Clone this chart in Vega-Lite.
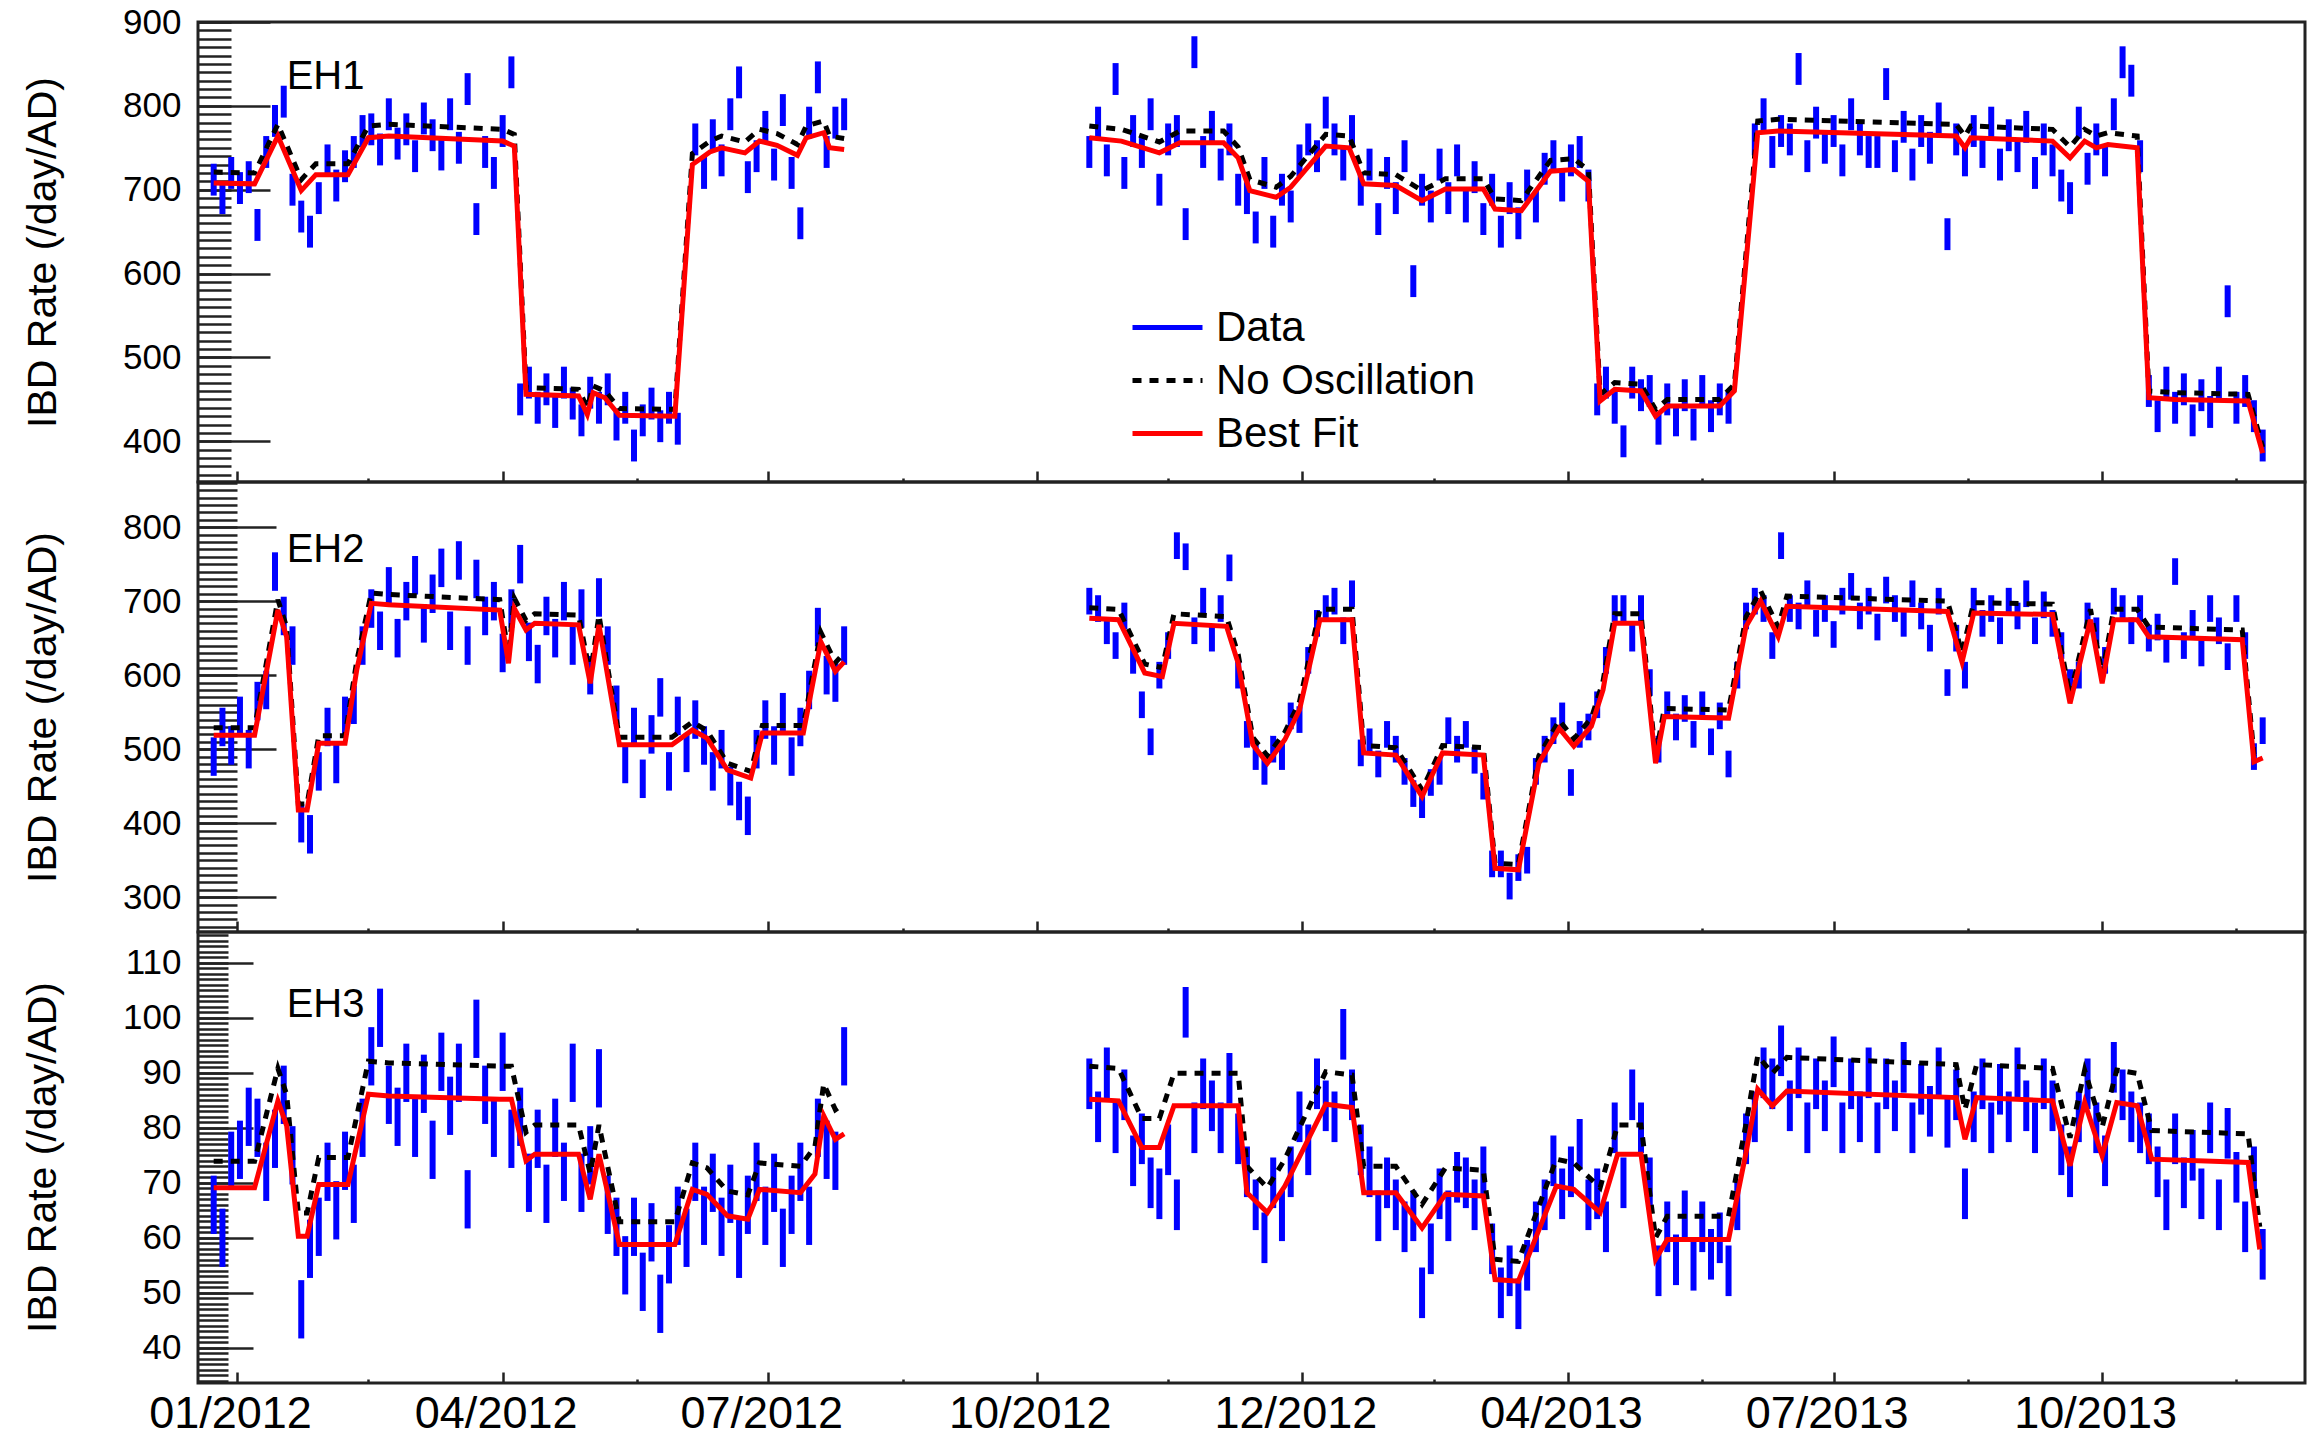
{
"$schema": "https://vega.github.io/schema/vega-lite/v6.json",
"padding": {"left": 20, "top": 3, "right": 0, "bottom": 0},
"background": "white",
"config": {
  "font": "Liberation Sans",
  "view": {"stroke": "#222222", "strokeWidth": 3},
  "axis": {"grid": false, "domain": false, "labelFont": "Liberation Sans", "titleFont": "Liberation Sans", "labelColor": "#000000", "titleColor": "#000000", "tickColor": "#222222", "tickWidth": 2.5, "labelOverlap": false, "labelFlush": false, "titleFontWeight": "normal"},
  "text": {"font": "Liberation Sans", "color": "#000000"}
},
"datasets": {
"eh1": [
{"d":"2011-12-24","r":712,"e":19},{"d":"2011-12-27","r":690,"e":19},{"d":"2011-12-30","r":720,"e":19},{"d":"2012-01-02","r":702,"e":19},{"d":"2012-01-05","r":715,"e":19},{"d":"2012-01-08","r":658,"e":19},{"d":"2012-01-11","r":745,"e":19},{"d":"2012-01-14","r":782,"e":19},{"d":"2012-01-17","r":805,"e":19},{"d":"2012-01-20","r":700,"e":19},{"d":"2012-01-23","r":668,"e":19},{"d":"2012-01-26","r":650,"e":19},{"d":"2012-01-29","r":690,"e":19},{"d":"2012-02-01","r":735,"e":19},{"d":"2012-02-04","r":705,"e":19},{"d":"2012-02-07","r":728,"e":19},{"d":"2012-02-10","r":745,"e":19},{"d":"2012-02-13","r":770,"e":19},{"d":"2012-02-16","r":772,"e":19},{"d":"2012-02-19","r":748,"e":19},{"d":"2012-02-22","r":790,"e":19},{"d":"2012-02-25","r":755,"e":19},{"d":"2012-02-28","r":772,"e":19},{"d":"2012-03-02","r":740,"e":19},{"d":"2012-03-05","r":785,"e":19},{"d":"2012-03-08","r":765,"e":19},{"d":"2012-03-11","r":742,"e":19},{"d":"2012-03-14","r":790,"e":19},{"d":"2012-03-17","r":750,"e":19},{"d":"2012-03-20","r":820,"e":19},{"d":"2012-03-23","r":665,"e":19},{"d":"2012-03-26","r":745,"e":19},{"d":"2012-03-29","r":720,"e":19},{"d":"2012-04-01","r":770,"e":19},{"d":"2012-04-04","r":840,"e":19},{"d":"2012-04-07","r":450,"e":19},{"d":"2012-04-10","r":470,"e":19},{"d":"2012-04-13","r":440,"e":19},{"d":"2012-04-16","r":462,"e":19},{"d":"2012-04-19","r":435,"e":19},{"d":"2012-04-22","r":470,"e":19},{"d":"2012-04-25","r":445,"e":19},{"d":"2012-04-28","r":425,"e":19},{"d":"2012-05-01","r":458,"e":19},{"d":"2012-05-04","r":440,"e":19},{"d":"2012-05-07","r":462,"e":19},{"d":"2012-05-10","r":420,"e":19},{"d":"2012-05-13","r":440,"e":19},{"d":"2012-05-16","r":395,"e":19},{"d":"2012-05-19","r":425,"e":19},{"d":"2012-05-22","r":445,"e":19},{"d":"2012-05-25","r":418,"e":19},{"d":"2012-05-28","r":440,"e":19},{"d":"2012-05-31","r":415,"e":19},{"d":"2012-06-06","r":760,"e":19},{"d":"2012-06-09","r":720,"e":19},{"d":"2012-06-12","r":765,"e":19},{"d":"2012-06-15","r":735,"e":19},{"d":"2012-06-18","r":790,"e":19},{"d":"2012-06-21","r":828,"e":19},{"d":"2012-06-24","r":715,"e":19},{"d":"2012-06-27","r":740,"e":19},{"d":"2012-06-30","r":775,"e":19},{"d":"2012-07-03","r":730,"e":19},{"d":"2012-07-06","r":795,"e":19},{"d":"2012-07-09","r":720,"e":19},{"d":"2012-07-12","r":660,"e":19},{"d":"2012-07-15","r":780,"e":19},{"d":"2012-07-18","r":834,"e":19},{"d":"2012-07-21","r":745,"e":19},{"d":"2012-07-24","r":780,"e":19},{"d":"2012-07-27","r":790,"e":19},
{"d":"2012-10-19","r":745,"e":19},{"d":"2012-10-22","r":780,"e":19},{"d":"2012-10-25","r":735,"e":19},{"d":"2012-10-28","r":832,"e":19},{"d":"2012-10-31","r":720,"e":19},{"d":"2012-11-03","r":770,"e":19},{"d":"2012-11-06","r":745,"e":19},{"d":"2012-11-09","r":790,"e":19},{"d":"2012-11-12","r":700,"e":19},{"d":"2012-11-15","r":760,"e":19},{"d":"2012-11-18","r":770,"e":19},{"d":"2012-11-21","r":659,"e":19},{"d":"2012-11-24","r":864,"e":19},{"d":"2012-11-27","r":745,"e":19},{"d":"2012-11-30","r":775,"e":19},{"d":"2012-12-03","r":730,"e":19},{"d":"2012-12-06","r":760,"e":19},{"d":"2012-12-09","r":700,"e":19},{"d":"2012-12-12","r":690,"e":19},{"d":"2012-12-15","r":655,"e":19},{"d":"2012-12-18","r":720,"e":19},{"d":"2012-12-21","r":650,"e":19},{"d":"2012-12-24","r":700,"e":19},{"d":"2012-12-27","r":680,"e":19},{"d":"2012-12-30","r":735,"e":19},{"d":"2013-01-02","r":760,"e":19},{"d":"2013-01-05","r":740,"e":19},{"d":"2013-01-08","r":792,"e":19},{"d":"2013-01-11","r":760,"e":19},{"d":"2013-01-14","r":730,"e":19},{"d":"2013-01-17","r":770,"e":19},{"d":"2013-01-20","r":700,"e":19},{"d":"2013-01-23","r":730,"e":19},{"d":"2013-01-26","r":665,"e":19},{"d":"2013-01-29","r":720,"e":19},{"d":"2013-02-01","r":690,"e":19},{"d":"2013-02-04","r":740,"e":19},{"d":"2013-02-07","r":591,"e":19},{"d":"2013-02-10","r":700,"e":19},{"d":"2013-02-13","r":680,"e":19},{"d":"2013-02-16","r":730,"e":19},{"d":"2013-02-19","r":690,"e":19},{"d":"2013-02-22","r":735,"e":19},{"d":"2013-02-25","r":680,"e":19},{"d":"2013-02-28","r":715,"e":19},{"d":"2013-03-03","r":665,"e":19},{"d":"2013-03-06","r":700,"e":19},{"d":"2013-03-09","r":650,"e":19},{"d":"2013-03-12","r":690,"e":19},{"d":"2013-03-15","r":660,"e":19},{"d":"2013-03-18","r":705,"e":19},{"d":"2013-03-21","r":680,"e":19},{"d":"2013-03-24","r":725,"e":19},{"d":"2013-03-27","r":740,"e":19},{"d":"2013-03-30","r":705,"e":19},{"d":"2013-04-02","r":735,"e":19},{"d":"2013-04-05","r":745,"e":19},{"d":"2013-04-08","r":705,"e":19},{"d":"2013-04-11","r":450,"e":19},{"d":"2013-04-14","r":470,"e":19},{"d":"2013-04-17","r":440,"e":19},{"d":"2013-04-20","r":400,"e":19},{"d":"2013-04-23","r":470,"e":19},{"d":"2013-04-26","r":455,"e":19},{"d":"2013-04-29","r":460,"e":19},{"d":"2013-05-02","r":415,"e":19},{"d":"2013-05-05","r":450,"e":19},{"d":"2013-05-08","r":425,"e":19},{"d":"2013-05-11","r":455,"e":19},{"d":"2013-05-14","r":420,"e":19},{"d":"2013-05-17","r":460,"e":19},{"d":"2013-05-20","r":430,"e":19},{"d":"2013-05-23","r":450,"e":19},{"d":"2013-05-26","r":440,"e":19},{"d":"2013-06-04","r":760,"e":19},{"d":"2013-06-07","r":790,"e":19},{"d":"2013-06-10","r":745,"e":19},{"d":"2013-06-13","r":770,"e":19},{"d":"2013-06-16","r":760,"e":19},{"d":"2013-06-19","r":844,"e":19},{"d":"2013-06-22","r":740,"e":19},{"d":"2013-06-25","r":780,"e":19},{"d":"2013-06-28","r":750,"e":19},{"d":"2013-07-01","r":770,"e":19},{"d":"2013-07-04","r":735,"e":19},{"d":"2013-07-07","r":790,"e":19},{"d":"2013-07-10","r":760,"e":19},{"d":"2013-07-13","r":745,"e":19},{"d":"2013-07-16","r":745,"e":19},{"d":"2013-07-19","r":826,"e":19},{"d":"2013-07-22","r":740,"e":19},{"d":"2013-07-25","r":775,"e":19},{"d":"2013-07-28","r":730,"e":19},{"d":"2013-07-31","r":770,"e":19},{"d":"2013-08-03","r":750,"e":19},{"d":"2013-08-06","r":785,"e":19},{"d":"2013-08-09","r":647,"e":19},{"d":"2013-08-12","r":760,"e":19},{"d":"2013-08-15","r":735,"e":19},{"d":"2013-08-18","r":770,"e":19},{"d":"2013-08-21","r":745,"e":19},{"d":"2013-08-24","r":780,"e":19},{"d":"2013-08-27","r":730,"e":19},{"d":"2013-08-30","r":765,"e":19},{"d":"2013-09-02","r":740,"e":19},{"d":"2013-09-05","r":775,"e":19},{"d":"2013-09-08","r":720,"e":19},{"d":"2013-09-11","r":760,"e":19},{"d":"2013-09-14","r":735,"e":19},{"d":"2013-09-17","r":705,"e":19},{"d":"2013-09-20","r":690,"e":19},{"d":"2013-09-23","r":780,"e":19},{"d":"2013-09-26","r":725,"e":19},{"d":"2013-09-29","r":760,"e":19},{"d":"2013-10-02","r":735,"e":19},{"d":"2013-10-05","r":790,"e":19},{"d":"2013-10-08","r":852,"e":19},{"d":"2013-10-11","r":830,"e":19},{"d":"2013-10-14","r":740,"e":19},{"d":"2013-10-17","r":460,"e":19},{"d":"2013-10-20","r":430,"e":19},{"d":"2013-10-23","r":470,"e":19},{"d":"2013-10-26","r":440,"e":19},{"d":"2013-10-29","r":462,"e":19},{"d":"2013-11-01","r":425,"e":19},{"d":"2013-11-04","r":455,"e":19},{"d":"2013-11-07","r":435,"e":19},{"d":"2013-11-10","r":470,"e":19},{"d":"2013-11-13","r":567,"e":19},{"d":"2013-11-16","r":440,"e":19},{"d":"2013-11-19","r":460,"e":19},{"d":"2013-11-22","r":430,"e":19},{"d":"2013-11-25","r":395,"e":19}
],
"eh2": [
{"d":"2011-12-24","r":490,"e":26},{"d":"2011-12-27","r":530,"e":26},{"d":"2011-12-30","r":505,"e":26},{"d":"2012-01-02","r":545,"e":26},{"d":"2012-01-05","r":500,"e":26},{"d":"2012-01-08","r":565,"e":26},{"d":"2012-01-11","r":580,"e":26},{"d":"2012-01-14","r":740,"e":26},{"d":"2012-01-17","r":680,"e":26},{"d":"2012-01-20","r":640,"e":26},{"d":"2012-01-23","r":400,"e":26},{"d":"2012-01-26","r":385,"e":26},{"d":"2012-01-29","r":470,"e":26},{"d":"2012-02-01","r":530,"e":26},{"d":"2012-02-04","r":480,"e":26},{"d":"2012-02-07","r":545,"e":26},{"d":"2012-02-10","r":560,"e":26},{"d":"2012-02-13","r":640,"e":26},{"d":"2012-02-16","r":690,"e":26},{"d":"2012-02-19","r":660,"e":26},{"d":"2012-02-22","r":720,"e":26},{"d":"2012-02-25","r":650,"e":26},{"d":"2012-02-28","r":700,"e":26},{"d":"2012-03-02","r":735,"e":26},{"d":"2012-03-05","r":670,"e":26},{"d":"2012-03-08","r":710,"e":26},{"d":"2012-03-11","r":745,"e":26},{"d":"2012-03-14","r":660,"e":26},{"d":"2012-03-17","r":755,"e":26},{"d":"2012-03-20","r":640,"e":26},{"d":"2012-03-23","r":730,"e":26},{"d":"2012-03-26","r":680,"e":26},{"d":"2012-03-29","r":700,"e":26},{"d":"2012-04-01","r":630,"e":26},{"d":"2012-04-04","r":690,"e":26},{"d":"2012-04-07","r":750,"e":26},{"d":"2012-04-10","r":645,"e":26},{"d":"2012-04-13","r":615,"e":26},{"d":"2012-04-16","r":680,"e":26},{"d":"2012-04-19","r":650,"e":26},{"d":"2012-04-22","r":700,"e":26},{"d":"2012-04-25","r":640,"e":26},{"d":"2012-04-28","r":690,"e":26},{"d":"2012-05-01","r":600,"e":26},{"d":"2012-05-04","r":705,"e":26},{"d":"2012-05-07","r":640,"e":26},{"d":"2012-05-10","r":560,"e":26},{"d":"2012-05-13","r":480,"e":26},{"d":"2012-05-16","r":530,"e":26},{"d":"2012-05-19","r":460,"e":26},{"d":"2012-05-22","r":520,"e":26},{"d":"2012-05-25","r":570,"e":26},{"d":"2012-05-28","r":470,"e":26},{"d":"2012-05-31","r":545,"e":26},{"d":"2012-06-03","r":495,"e":26},{"d":"2012-06-06","r":540,"e":26},{"d":"2012-06-09","r":505,"e":26},{"d":"2012-06-12","r":470,"e":26},{"d":"2012-06-15","r":500,"e":26},{"d":"2012-06-18","r":450,"e":26},{"d":"2012-06-21","r":430,"e":26},{"d":"2012-06-24","r":410,"e":26},{"d":"2012-06-27","r":500,"e":26},{"d":"2012-06-30","r":540,"e":26},{"d":"2012-07-03","r":505,"e":26},{"d":"2012-07-06","r":550,"e":26},{"d":"2012-07-09","r":490,"e":26},{"d":"2012-07-12","r":530,"e":26},{"d":"2012-07-15","r":580,"e":26},{"d":"2012-07-18","r":665,"e":26},{"d":"2012-07-21","r":600,"e":26},{"d":"2012-07-24","r":590,"e":26},{"d":"2012-07-27","r":640,"e":26},
{"d":"2012-10-19","r":700,"e":18},{"d":"2012-10-22","r":690,"e":18},{"d":"2012-10-25","r":660,"e":18},{"d":"2012-10-28","r":640,"e":18},{"d":"2012-10-31","r":680,"e":18},{"d":"2012-11-03","r":620,"e":18},{"d":"2012-11-06","r":560,"e":18},{"d":"2012-11-09","r":510,"e":18},{"d":"2012-11-12","r":600,"e":18},{"d":"2012-11-15","r":640,"e":18},{"d":"2012-11-18","r":775,"e":18},{"d":"2012-11-21","r":760,"e":18},{"d":"2012-11-24","r":660,"e":18},{"d":"2012-11-27","r":700,"e":18},{"d":"2012-11-30","r":650,"e":18},{"d":"2012-12-03","r":690,"e":18},{"d":"2012-12-06","r":745,"e":18},{"d":"2012-12-09","r":600,"e":18},{"d":"2012-12-12","r":520,"e":18},{"d":"2012-12-15","r":490,"e":18},{"d":"2012-12-18","r":470,"e":18},{"d":"2012-12-21","r":500,"e":18},{"d":"2012-12-24","r":490,"e":18},{"d":"2012-12-27","r":545,"e":18},{"d":"2012-12-30","r":540,"e":18},{"d":"2013-01-02","r":620,"e":18},{"d":"2013-01-05","r":670,"e":18},{"d":"2013-01-08","r":690,"e":18},{"d":"2013-01-11","r":700,"e":18},{"d":"2013-01-14","r":660,"e":18},{"d":"2013-01-17","r":710,"e":18},{"d":"2013-01-20","r":495,"e":18},{"d":"2013-01-23","r":510,"e":18},{"d":"2013-01-26","r":480,"e":18},{"d":"2013-01-29","r":520,"e":18},{"d":"2013-02-01","r":500,"e":18},{"d":"2013-02-04","r":470,"e":18},{"d":"2013-02-07","r":440,"e":18},{"d":"2013-02-10","r":425,"e":18},{"d":"2013-02-13","r":455,"e":18},{"d":"2013-02-16","r":470,"e":18},{"d":"2013-02-19","r":525,"e":18},{"d":"2013-02-22","r":500,"e":18},{"d":"2013-02-25","r":520,"e":18},{"d":"2013-02-28","r":485,"e":18},{"d":"2013-03-03","r":450,"e":18},{"d":"2013-03-06","r":345,"e":18},{"d":"2013-03-09","r":345,"e":18},{"d":"2013-03-12","r":315,"e":18},{"d":"2013-03-15","r":340,"e":18},{"d":"2013-03-18","r":350,"e":18},{"d":"2013-03-21","r":470,"e":18},{"d":"2013-03-24","r":500,"e":18},{"d":"2013-03-27","r":525,"e":18},{"d":"2013-03-30","r":545,"e":18},{"d":"2013-04-02","r":455,"e":18},{"d":"2013-04-05","r":520,"e":18},{"d":"2013-04-08","r":530,"e":18},{"d":"2013-04-11","r":560,"e":18},{"d":"2013-04-14","r":620,"e":18},{"d":"2013-04-17","r":690,"e":18},{"d":"2013-04-20","r":690,"e":18},{"d":"2013-04-23","r":650,"e":18},{"d":"2013-04-26","r":690,"e":18},{"d":"2013-04-29","r":590,"e":18},{"d":"2013-05-02","r":500,"e":18},{"d":"2013-05-05","r":560,"e":18},{"d":"2013-05-08","r":530,"e":18},{"d":"2013-05-11","r":555,"e":18},{"d":"2013-05-14","r":520,"e":18},{"d":"2013-05-17","r":560,"e":18},{"d":"2013-05-20","r":510,"e":18},{"d":"2013-05-23","r":545,"e":18},{"d":"2013-05-26","r":480,"e":18},{"d":"2013-05-29","r":600,"e":18},{"d":"2013-06-01","r":680,"e":18},{"d":"2013-06-04","r":700,"e":18},{"d":"2013-06-07","r":690,"e":18},{"d":"2013-06-10","r":640,"e":18},{"d":"2013-06-13","r":775,"e":18},{"d":"2013-06-16","r":690,"e":18},{"d":"2013-06-19","r":680,"e":18},{"d":"2013-06-22","r":710,"e":18},{"d":"2013-06-25","r":670,"e":18},{"d":"2013-06-28","r":690,"e":18},{"d":"2013-07-01","r":655,"e":18},{"d":"2013-07-04","r":700,"e":18},{"d":"2013-07-07","r":720,"e":18},{"d":"2013-07-10","r":680,"e":18},{"d":"2013-07-13","r":700,"e":18},{"d":"2013-07-16","r":665,"e":18},{"d":"2013-07-19","r":715,"e":18},{"d":"2013-07-22","r":690,"e":18},{"d":"2013-07-25","r":670,"e":18},{"d":"2013-07-28","r":710,"e":18},{"d":"2013-07-31","r":680,"e":18},{"d":"2013-08-03","r":650,"e":18},{"d":"2013-08-06","r":700,"e":18},{"d":"2013-08-09","r":590,"e":18},{"d":"2013-08-12","r":650,"e":18},{"d":"2013-08-15","r":600,"e":18},{"d":"2013-08-18","r":700,"e":18},{"d":"2013-08-21","r":670,"e":18},{"d":"2013-08-24","r":690,"e":18},{"d":"2013-08-27","r":660,"e":18},{"d":"2013-08-30","r":700,"e":18},{"d":"2013-09-02","r":680,"e":18},{"d":"2013-09-05","r":710,"e":18},{"d":"2013-09-08","r":660,"e":18},{"d":"2013-09-11","r":695,"e":18},{"d":"2013-09-14","r":670,"e":18},{"d":"2013-09-17","r":640,"e":18},{"d":"2013-09-20","r":590,"e":18},{"d":"2013-09-23","r":600,"e":18},{"d":"2013-09-26","r":680,"e":18},{"d":"2013-09-29","r":660,"e":18},{"d":"2013-10-02","r":620,"e":18},{"d":"2013-10-05","r":700,"e":18},{"d":"2013-10-08","r":690,"e":18},{"d":"2013-10-11","r":660,"e":18},{"d":"2013-10-14","r":690,"e":18},{"d":"2013-10-17","r":650,"e":18},{"d":"2013-10-20","r":665,"e":18},{"d":"2013-10-23","r":635,"e":18},{"d":"2013-10-26","r":740,"e":18},{"d":"2013-10-29","r":640,"e":18},{"d":"2013-11-01","r":670,"e":18},{"d":"2013-11-04","r":630,"e":18},{"d":"2013-11-07","r":690,"e":18},{"d":"2013-11-10","r":660,"e":18},{"d":"2013-11-13","r":625,"e":18},{"d":"2013-11-16","r":690,"e":18},{"d":"2013-11-19","r":640,"e":18},{"d":"2013-11-22","r":490,"e":18},{"d":"2013-11-25","r":525,"e":18}
],
"eh3": [
{"d":"2011-12-24","r":66,"e":5.3},{"d":"2011-12-27","r":60,"e":5.3},{"d":"2011-12-30","r":74,"e":5.3},{"d":"2012-01-02","r":76,"e":5.3},{"d":"2012-01-05","r":82,"e":5.3},{"d":"2012-01-08","r":80,"e":5.3},{"d":"2012-01-11","r":72,"e":5.3},{"d":"2012-01-14","r":78,"e":5.3},{"d":"2012-01-17","r":86,"e":5.3},{"d":"2012-01-20","r":75,"e":5.3},{"d":"2012-01-23","r":47,"e":5.3},{"d":"2012-01-26","r":58,"e":5.3},{"d":"2012-01-29","r":62,"e":5.3},{"d":"2012-02-01","r":72,"e":5.3},{"d":"2012-02-04","r":65,"e":5.3},{"d":"2012-02-07","r":74,"e":5.3},{"d":"2012-02-10","r":68,"e":5.3},{"d":"2012-02-13","r":80,"e":5.3},{"d":"2012-02-16","r":93,"e":5.3},{"d":"2012-02-19","r":100,"e":5.3},{"d":"2012-02-22","r":86,"e":5.3},{"d":"2012-02-25","r":82,"e":5.3},{"d":"2012-02-28","r":90,"e":5.3},{"d":"2012-03-02","r":80,"e":5.3},{"d":"2012-03-05","r":88,"e":5.3},{"d":"2012-03-08","r":76,"e":5.3},{"d":"2012-03-11","r":92,"e":5.3},{"d":"2012-03-14","r":84,"e":5.3},{"d":"2012-03-17","r":90,"e":5.3},{"d":"2012-03-20","r":67,"e":5.3},{"d":"2012-03-23","r":98,"e":5.3},{"d":"2012-03-26","r":86,"e":5.3},{"d":"2012-03-29","r":80,"e":5.3},{"d":"2012-04-01","r":92,"e":5.3},{"d":"2012-04-04","r":78,"e":5.3},{"d":"2012-04-07","r":82,"e":5.3},{"d":"2012-04-10","r":70,"e":5.3},{"d":"2012-04-13","r":78,"e":5.3},{"d":"2012-04-16","r":68,"e":5.3},{"d":"2012-04-19","r":80,"e":5.3},{"d":"2012-04-22","r":72,"e":5.3},{"d":"2012-04-25","r":90,"e":5.3},{"d":"2012-04-28","r":70,"e":5.3},{"d":"2012-05-01","r":75,"e":5.3},{"d":"2012-05-04","r":89,"e":5.3},{"d":"2012-05-07","r":66,"e":5.3},{"d":"2012-05-10","r":62,"e":5.3},{"d":"2012-05-13","r":55,"e":5.3},{"d":"2012-05-16","r":62,"e":5.3},{"d":"2012-05-19","r":52,"e":5.3},{"d":"2012-05-22","r":61,"e":5.3},{"d":"2012-05-25","r":48,"e":5.3},{"d":"2012-05-28","r":57,"e":5.3},{"d":"2012-05-31","r":64,"e":5.3},{"d":"2012-06-03","r":60,"e":5.3},{"d":"2012-06-06","r":72,"e":5.3},{"d":"2012-06-09","r":64,"e":5.3},{"d":"2012-06-12","r":70,"e":5.3},{"d":"2012-06-15","r":62,"e":5.3},{"d":"2012-06-18","r":68,"e":5.3},{"d":"2012-06-21","r":58,"e":5.3},{"d":"2012-06-24","r":66,"e":5.3},{"d":"2012-06-27","r":72,"e":5.3},{"d":"2012-06-30","r":64,"e":5.3},{"d":"2012-07-03","r":70,"e":5.3},{"d":"2012-07-06","r":60,"e":5.3},{"d":"2012-07-09","r":66,"e":5.3},{"d":"2012-07-12","r":72,"e":5.3},{"d":"2012-07-15","r":64,"e":5.3},{"d":"2012-07-18","r":80,"e":5.3},{"d":"2012-07-21","r":76,"e":5.3},{"d":"2012-07-24","r":74,"e":5.3},{"d":"2012-07-27","r":93,"e":5.3},
{"d":"2012-10-19","r":88,"e":4.6},{"d":"2012-10-22","r":82,"e":4.6},{"d":"2012-10-25","r":90,"e":4.6},{"d":"2012-10-28","r":80,"e":4.6},{"d":"2012-10-31","r":86,"e":4.6},{"d":"2012-11-03","r":74,"e":4.6},{"d":"2012-11-06","r":78,"e":4.6},{"d":"2012-11-09","r":70,"e":4.6},{"d":"2012-11-12","r":68,"e":4.6},{"d":"2012-11-15","r":76,"e":4.6},{"d":"2012-11-18","r":66,"e":4.6},{"d":"2012-11-21","r":101,"e":4.6},{"d":"2012-11-24","r":80,"e":4.6},{"d":"2012-11-27","r":88,"e":4.6},{"d":"2012-11-30","r":84,"e":4.6},{"d":"2012-12-03","r":80,"e":4.6},{"d":"2012-12-06","r":89,"e":4.6},{"d":"2012-12-09","r":78,"e":4.6},{"d":"2012-12-12","r":72,"e":4.6},{"d":"2012-12-15","r":66,"e":4.6},{"d":"2012-12-18","r":60,"e":4.6},{"d":"2012-12-21","r":70,"e":4.6},{"d":"2012-12-24","r":64,"e":4.6},{"d":"2012-12-27","r":72,"e":4.6},{"d":"2012-12-30","r":82,"e":4.6},{"d":"2013-01-02","r":76,"e":4.6},{"d":"2013-01-05","r":88,"e":4.6},{"d":"2013-01-08","r":84,"e":4.6},{"d":"2013-01-11","r":82,"e":4.6},{"d":"2013-01-14","r":97,"e":4.6},{"d":"2013-01-17","r":86,"e":4.6},{"d":"2013-01-20","r":76,"e":4.6},{"d":"2013-01-23","r":72,"e":4.6},{"d":"2013-01-26","r":64,"e":4.6},{"d":"2013-01-29","r":70,"e":4.6},{"d":"2013-02-01","r":66,"e":4.6},{"d":"2013-02-04","r":62,"e":4.6},{"d":"2013-02-07","r":64,"e":4.6},{"d":"2013-02-10","r":50,"e":4.6},{"d":"2013-02-13","r":58,"e":4.6},{"d":"2013-02-16","r":68,"e":4.6},{"d":"2013-02-19","r":64,"e":4.6},{"d":"2013-02-22","r":71,"e":4.6},{"d":"2013-02-25","r":70,"e":4.6},{"d":"2013-02-28","r":66,"e":4.6},{"d":"2013-03-03","r":72,"e":4.6},{"d":"2013-03-06","r":58,"e":4.6},{"d":"2013-03-09","r":50,"e":4.6},{"d":"2013-03-12","r":54,"e":4.6},{"d":"2013-03-15","r":48,"e":4.6},{"d":"2013-03-18","r":55,"e":4.6},{"d":"2013-03-21","r":62,"e":4.6},{"d":"2013-03-24","r":66,"e":4.6},{"d":"2013-03-27","r":74,"e":4.6},{"d":"2013-03-30","r":68,"e":4.6},{"d":"2013-04-02","r":72,"e":4.6},{"d":"2013-04-05","r":77,"e":4.6},{"d":"2013-04-08","r":66,"e":4.6},{"d":"2013-04-11","r":68,"e":4.6},{"d":"2013-04-14","r":62,"e":4.6},{"d":"2013-04-17","r":80,"e":4.6},{"d":"2013-04-20","r":70,"e":4.6},{"d":"2013-04-23","r":86,"e":4.6},{"d":"2013-04-26","r":80,"e":4.6},{"d":"2013-04-29","r":70,"e":4.6},{"d":"2013-05-02","r":54,"e":4.6},{"d":"2013-05-05","r":62,"e":4.6},{"d":"2013-05-08","r":56,"e":4.6},{"d":"2013-05-11","r":64,"e":4.6},{"d":"2013-05-14","r":55,"e":4.6},{"d":"2013-05-17","r":62,"e":4.6},{"d":"2013-05-20","r":57,"e":4.6},{"d":"2013-05-23","r":60,"e":4.6},{"d":"2013-05-26","r":54,"e":4.6},{"d":"2013-05-29","r":66,"e":4.6},{"d":"2013-06-01","r":78,"e":4.6},{"d":"2013-06-04","r":82,"e":4.6},{"d":"2013-06-07","r":90,"e":4.6},{"d":"2013-06-10","r":88,"e":4.6},{"d":"2013-06-13","r":94,"e":4.6},{"d":"2013-06-16","r":84,"e":4.6},{"d":"2013-06-19","r":90,"e":4.6},{"d":"2013-06-22","r":80,"e":4.6},{"d":"2013-06-25","r":88,"e":4.6},{"d":"2013-06-28","r":84,"e":4.6},{"d":"2013-07-01","r":92,"e":4.6},{"d":"2013-07-04","r":80,"e":4.6},{"d":"2013-07-07","r":88,"e":4.6},{"d":"2013-07-10","r":82,"e":4.6},{"d":"2013-07-13","r":90,"e":4.6},{"d":"2013-07-16","r":80,"e":4.6},{"d":"2013-07-19","r":88,"e":4.6},{"d":"2013-07-22","r":84,"e":4.6},{"d":"2013-07-25","r":91,"e":4.6},{"d":"2013-07-28","r":80,"e":4.6},{"d":"2013-07-31","r":87,"e":4.6},{"d":"2013-08-03","r":83,"e":4.6},{"d":"2013-08-06","r":90,"e":4.6},{"d":"2013-08-09","r":81,"e":4.6},{"d":"2013-08-12","r":86,"e":4.6},{"d":"2013-08-15","r":68,"e":4.6},{"d":"2013-08-18","r":82,"e":4.6},{"d":"2013-08-21","r":88,"e":4.6},{"d":"2013-08-24","r":80,"e":4.6},{"d":"2013-08-27","r":87,"e":4.6},{"d":"2013-08-30","r":82,"e":4.6},{"d":"2013-09-02","r":90,"e":4.6},{"d":"2013-09-05","r":84,"e":4.6},{"d":"2013-09-08","r":80,"e":4.6},{"d":"2013-09-11","r":88,"e":4.6},{"d":"2013-09-14","r":84,"e":4.6},{"d":"2013-09-17","r":76,"e":4.6},{"d":"2013-09-20","r":72,"e":4.6},{"d":"2013-09-23","r":82,"e":4.6},{"d":"2013-09-26","r":88,"e":4.6},{"d":"2013-09-29","r":80,"e":4.6},{"d":"2013-10-02","r":74,"e":4.6},{"d":"2013-10-05","r":91,"e":4.6},{"d":"2013-10-08","r":86,"e":4.6},{"d":"2013-10-11","r":82,"e":4.6},{"d":"2013-10-14","r":80,"e":4.6},{"d":"2013-10-17","r":78,"e":4.6},{"d":"2013-10-20","r":72,"e":4.6},{"d":"2013-10-23","r":66,"e":4.6},{"d":"2013-10-26","r":78,"e":4.6},{"d":"2013-10-29","r":70,"e":4.6},{"d":"2013-11-01","r":75,"e":4.6},{"d":"2013-11-04","r":68,"e":4.6},{"d":"2013-11-07","r":80,"e":4.6},{"d":"2013-11-10","r":66,"e":4.6},{"d":"2013-11-13","r":79,"e":4.6},{"d":"2013-11-16","r":71,"e":4.6},{"d":"2013-11-19","r":62,"e":4.6},{"d":"2013-11-22","r":72,"e":4.6},{"d":"2013-11-25","r":57,"e":4.6}
],
"l1": [
{"d":"2011-12-24","s":"fit","p":1,"r":708},{"d":"2012-01-07","s":"fit","p":1,"r":707},{"d":"2012-01-15","s":"fit","p":1,"r":764},{"d":"2012-01-23","s":"fit","p":1,"r":699},{"d":"2012-01-28","s":"fit","p":1,"r":718},{"d":"2012-02-08","s":"fit","p":1,"r":718},{"d":"2012-02-15","s":"fit","p":1,"r":762},{"d":"2012-02-22","s":"fit","p":1,"r":764},{"d":"2012-04-01","s":"fit","p":1,"r":758},{"d":"2012-04-05","s":"fit","p":1,"r":752},{"d":"2012-04-09","s":"fit","p":1,"r":456},{"d":"2012-04-27","s":"fit","p":1,"r":454},{"d":"2012-04-30","s":"fit","p":1,"r":432},{"d":"2012-05-02","s":"fit","p":1,"r":458},{"d":"2012-05-06","s":"fit","p":1,"r":452},{"d":"2012-05-11","s":"fit","p":1,"r":431},{"d":"2012-05-30","s":"fit","p":1,"r":430},{"d":"2012-06-05","s":"fit","p":1,"r":730},{"d":"2012-06-11","s":"fit","p":1,"r":745},{"d":"2012-06-15","s":"fit","p":1,"r":750},{"d":"2012-06-23","s":"fit","p":1,"r":744},{"d":"2012-06-28","s":"fit","p":1,"r":758},{"d":"2012-07-04","s":"fit","p":1,"r":753},{"d":"2012-07-11","s":"fit","p":1,"r":741},{"d":"2012-07-14","s":"fit","p":1,"r":762},{"d":"2012-07-20","s":"fit","p":1,"r":768},{"d":"2012-07-22","s":"fit","p":1,"r":750},{"d":"2012-07-27","s":"fit","p":1,"r":748},
{"d":"2012-10-19","s":"fit","p":2,"r":762},{"d":"2012-10-30","s":"fit","p":2,"r":758},{"d":"2012-11-12","s":"fit","p":2,"r":744},{"d":"2012-11-19","s":"fit","p":2,"r":756},{"d":"2012-12-04","s":"fit","p":2,"r":756},{"d":"2012-12-09","s":"fit","p":2,"r":738},{"d":"2012-12-13","s":"fit","p":2,"r":699},{"d":"2012-12-22","s":"fit","p":2,"r":691},{"d":"2012-12-27","s":"fit","p":2,"r":703},{"d":"2013-01-08","s":"fit","p":2,"r":752},{"d":"2013-01-16","s":"fit","p":2,"r":750},{"d":"2013-01-21","s":"fit","p":2,"r":707},{"d":"2013-02-01","s":"fit","p":2,"r":705},{"d":"2013-02-10","s":"fit","p":2,"r":687},{"d":"2013-02-18","s":"fit","p":2,"r":701},{"d":"2013-03-03","s":"fit","p":2,"r":701},{"d":"2013-03-07","s":"fit","p":2,"r":677},{"d":"2013-03-16","s":"fit","p":2,"r":675},{"d":"2013-03-26","s":"fit","p":2,"r":722},{"d":"2013-04-03","s":"fit","p":2,"r":724},{"d":"2013-04-08","s":"fit","p":2,"r":710},{"d":"2013-04-12","s":"fit","p":2,"r":448},{"d":"2013-04-17","s":"fit","p":2,"r":462},{"d":"2013-04-26","s":"fit","p":2,"r":460},{"d":"2013-05-01","s":"fit","p":2,"r":430},{"d":"2013-05-05","s":"fit","p":2,"r":442},{"d":"2013-05-23","s":"fit","p":2,"r":442},{"d":"2013-05-28","s":"fit","p":2,"r":460},{"d":"2013-06-05","s":"fit","p":2,"r":768},{"d":"2013-06-12","s":"fit","p":2,"r":770},{"d":"2013-08-12","s":"fit","p":2,"r":764},{"d":"2013-08-15","s":"fit","p":2,"r":750},{"d":"2013-08-17","s":"fit","p":2,"r":762},{"d":"2013-09-14","s":"fit","p":2,"r":758},{"d":"2013-09-20","s":"fit","p":2,"r":738},{"d":"2013-09-25","s":"fit","p":2,"r":758},{"d":"2013-09-29","s":"fit","p":2,"r":750},{"d":"2013-10-03","s":"fit","p":2,"r":754},{"d":"2013-10-13","s":"fit","p":2,"r":750},{"d":"2013-10-17","s":"fit","p":2,"r":452},{"d":"2013-10-26","s":"fit","p":2,"r":450},{"d":"2013-11-20","s":"fit","p":2,"r":448},{"d":"2013-11-25","s":"fit","p":2,"r":386},
{"d":"2011-12-24","s":"no","p":1,"r":721},{"d":"2012-01-07","s":"no","p":1,"r":720},{"d":"2012-01-15","s":"no","p":1,"r":778},{"d":"2012-01-23","s":"no","p":1,"r":712},{"d":"2012-01-28","s":"no","p":1,"r":731},{"d":"2012-02-08","s":"no","p":1,"r":731},{"d":"2012-02-15","s":"no","p":1,"r":776},{"d":"2012-02-22","s":"no","p":1,"r":778},{"d":"2012-04-01","s":"no","p":1,"r":772},{"d":"2012-04-05","s":"no","p":1,"r":766},{"d":"2012-04-09","s":"no","p":1,"r":464},{"d":"2012-04-27","s":"no","p":1,"r":462},{"d":"2012-04-30","s":"no","p":1,"r":440},{"d":"2012-05-02","s":"no","p":1,"r":466},{"d":"2012-05-06","s":"no","p":1,"r":460},{"d":"2012-05-11","s":"no","p":1,"r":439},{"d":"2012-05-30","s":"no","p":1,"r":438},{"d":"2012-06-05","s":"no","p":1,"r":743},{"d":"2012-06-11","s":"no","p":1,"r":758},{"d":"2012-06-15","s":"no","p":1,"r":764},{"d":"2012-06-23","s":"no","p":1,"r":757},{"d":"2012-06-28","s":"no","p":1,"r":772},{"d":"2012-07-04","s":"no","p":1,"r":767},{"d":"2012-07-11","s":"no","p":1,"r":754},{"d":"2012-07-14","s":"no","p":1,"r":776},{"d":"2012-07-20","s":"no","p":1,"r":782},{"d":"2012-07-22","s":"no","p":1,"r":764},{"d":"2012-07-27","s":"no","p":1,"r":761},
{"d":"2012-10-19","s":"no","p":2,"r":776},{"d":"2012-10-30","s":"no","p":2,"r":772},{"d":"2012-11-12","s":"no","p":2,"r":757},{"d":"2012-11-19","s":"no","p":2,"r":770},{"d":"2012-12-04","s":"no","p":2,"r":770},{"d":"2012-12-09","s":"no","p":2,"r":751},{"d":"2012-12-13","s":"no","p":2,"r":712},{"d":"2012-12-22","s":"no","p":2,"r":703},{"d":"2012-12-27","s":"no","p":2,"r":716},{"d":"2013-01-08","s":"no","p":2,"r":766},{"d":"2013-01-16","s":"no","p":2,"r":764},{"d":"2013-01-21","s":"no","p":2,"r":720},{"d":"2013-02-01","s":"no","p":2,"r":718},{"d":"2013-02-10","s":"no","p":2,"r":699},{"d":"2013-02-18","s":"no","p":2,"r":713},{"d":"2013-03-03","s":"no","p":2,"r":713},{"d":"2013-03-07","s":"no","p":2,"r":689},{"d":"2013-03-16","s":"no","p":2,"r":687},{"d":"2013-03-26","s":"no","p":2,"r":735},{"d":"2013-04-03","s":"no","p":2,"r":737},{"d":"2013-04-08","s":"no","p":2,"r":723},{"d":"2013-04-12","s":"no","p":2,"r":456},{"d":"2013-04-17","s":"no","p":2,"r":470},{"d":"2013-04-26","s":"no","p":2,"r":468},{"d":"2013-05-01","s":"no","p":2,"r":438},{"d":"2013-05-05","s":"no","p":2,"r":450},{"d":"2013-05-23","s":"no","p":2,"r":450},{"d":"2013-05-28","s":"no","p":2,"r":468},{"d":"2013-06-05","s":"no","p":2,"r":782},{"d":"2013-06-12","s":"no","p":2,"r":784},{"d":"2013-08-12","s":"no","p":2,"r":778},{"d":"2013-08-15","s":"no","p":2,"r":764},{"d":"2013-08-17","s":"no","p":2,"r":776},{"d":"2013-09-14","s":"no","p":2,"r":772},{"d":"2013-09-20","s":"no","p":2,"r":751},{"d":"2013-09-25","s":"no","p":2,"r":772},{"d":"2013-09-29","s":"no","p":2,"r":764},{"d":"2013-10-03","s":"no","p":2,"r":768},{"d":"2013-10-13","s":"no","p":2,"r":764},{"d":"2013-10-17","s":"no","p":2,"r":460},{"d":"2013-10-26","s":"no","p":2,"r":458},{"d":"2013-11-20","s":"no","p":2,"r":456},{"d":"2013-11-25","s":"no","p":2,"r":393}
],
"l2": [
{"d":"2011-12-24","s":"fit","p":1,"r":519},{"d":"2012-01-07","s":"fit","p":1,"r":519},{"d":"2012-01-15","s":"fit","p":1,"r":688},{"d":"2012-01-18","s":"fit","p":1,"r":652},{"d":"2012-01-22","s":"fit","p":1,"r":418},{"d":"2012-01-25","s":"fit","p":1,"r":418},{"d":"2012-01-29","s":"fit","p":1,"r":508},{"d":"2012-02-07","s":"fit","p":1,"r":508},{"d":"2012-02-11","s":"fit","p":1,"r":607},{"d":"2012-02-16","s":"fit","p":1,"r":697},{"d":"2012-02-22","s":"fit","p":1,"r":695},{"d":"2012-03-31","s":"fit","p":1,"r":688},{"d":"2012-04-03","s":"fit","p":1,"r":616},{"d":"2012-04-05","s":"fit","p":1,"r":690},{"d":"2012-04-09","s":"fit","p":1,"r":661},{"d":"2012-04-12","s":"fit","p":1,"r":670},{"d":"2012-04-27","s":"fit","p":1,"r":668},{"d":"2012-05-01","s":"fit","p":1,"r":589},{"d":"2012-05-04","s":"fit","p":1,"r":668},{"d":"2012-05-11","s":"fit","p":1,"r":506},{"d":"2012-05-29","s":"fit","p":1,"r":506},{"d":"2012-06-05","s":"fit","p":1,"r":526},{"d":"2012-06-10","s":"fit","p":1,"r":515},{"d":"2012-06-17","s":"fit","p":1,"r":472},{"d":"2012-06-25","s":"fit","p":1,"r":461},{"d":"2012-06-29","s":"fit","p":1,"r":522},{"d":"2012-07-13","s":"fit","p":1,"r":522},{"d":"2012-07-19","s":"fit","p":1,"r":645},{"d":"2012-07-24","s":"fit","p":1,"r":605},{"d":"2012-07-27","s":"fit","p":1,"r":618},
{"d":"2012-10-19","s":"fit","p":2,"r":677},{"d":"2012-10-29","s":"fit","p":2,"r":675},{"d":"2012-11-07","s":"fit","p":2,"r":603},{"d":"2012-11-13","s":"fit","p":2,"r":598},{"d":"2012-11-17","s":"fit","p":2,"r":670},{"d":"2012-12-05","s":"fit","p":2,"r":666},{"d":"2012-12-09","s":"fit","p":2,"r":616},{"d":"2012-12-14","s":"fit","p":2,"r":506},{"d":"2012-12-19","s":"fit","p":2,"r":481},{"d":"2012-12-25","s":"fit","p":2,"r":513},{"d":"2012-12-30","s":"fit","p":2,"r":553},{"d":"2013-01-06","s":"fit","p":2,"r":675},{"d":"2013-01-17","s":"fit","p":2,"r":675},{"d":"2013-01-21","s":"fit","p":2,"r":495},{"d":"2013-02-01","s":"fit","p":2,"r":492},{"d":"2013-02-10","s":"fit","p":2,"r":436},{"d":"2013-02-17","s":"fit","p":2,"r":495},{"d":"2013-03-03","s":"fit","p":2,"r":492},{"d":"2013-03-07","s":"fit","p":2,"r":339},{"d":"2013-03-15","s":"fit","p":2,"r":337},{"d":"2013-03-22","s":"fit","p":2,"r":481},{"d":"2013-03-29","s":"fit","p":2,"r":528},{"d":"2013-04-03","s":"fit","p":2,"r":504},{"d":"2013-04-09","s":"fit","p":2,"r":531},{"d":"2013-04-13","s":"fit","p":2,"r":580},{"d":"2013-04-17","s":"fit","p":2,"r":670},{"d":"2013-04-26","s":"fit","p":2,"r":670},{"d":"2013-05-01","s":"fit","p":2,"r":481},{"d":"2013-05-04","s":"fit","p":2,"r":544},{"d":"2013-05-26","s":"fit","p":2,"r":542},{"d":"2013-06-01","s":"fit","p":2,"r":666},{"d":"2013-06-06","s":"fit","p":2,"r":700},{"d":"2013-06-12","s":"fit","p":2,"r":652},{"d":"2013-06-15","s":"fit","p":2,"r":693},{"d":"2013-08-09","s":"fit","p":2,"r":686},{"d":"2013-08-14","s":"fit","p":2,"r":618},{"d":"2013-08-18","s":"fit","p":2,"r":684},{"d":"2013-09-14","s":"fit","p":2,"r":682},{"d":"2013-09-20","s":"fit","p":2,"r":562},{"d":"2013-09-27","s":"fit","p":2,"r":675},{"d":"2013-10-01","s":"fit","p":2,"r":589},{"d":"2013-10-05","s":"fit","p":2,"r":675},{"d":"2013-10-13","s":"fit","p":2,"r":675},{"d":"2013-10-17","s":"fit","p":2,"r":652},{"d":"2013-11-18","s":"fit","p":2,"r":648},{"d":"2013-11-22","s":"fit","p":2,"r":483},{"d":"2013-11-25","s":"fit","p":2,"r":488},
{"d":"2011-12-24","s":"no","p":1,"r":529},{"d":"2012-01-07","s":"no","p":1,"r":529},{"d":"2012-01-15","s":"no","p":1,"r":702},{"d":"2012-01-18","s":"no","p":1,"r":665},{"d":"2012-01-22","s":"no","p":1,"r":426},{"d":"2012-01-25","s":"no","p":1,"r":426},{"d":"2012-01-29","s":"no","p":1,"r":518},{"d":"2012-02-07","s":"no","p":1,"r":518},{"d":"2012-02-11","s":"no","p":1,"r":619},{"d":"2012-02-16","s":"no","p":1,"r":711},{"d":"2012-02-22","s":"no","p":1,"r":709},{"d":"2012-03-31","s":"no","p":1,"r":702},{"d":"2012-04-03","s":"no","p":1,"r":628},{"d":"2012-04-05","s":"no","p":1,"r":704},{"d":"2012-04-09","s":"no","p":1,"r":674},{"d":"2012-04-12","s":"no","p":1,"r":683},{"d":"2012-04-27","s":"no","p":1,"r":681},{"d":"2012-05-01","s":"no","p":1,"r":601},{"d":"2012-05-04","s":"no","p":1,"r":681},{"d":"2012-05-11","s":"no","p":1,"r":516},{"d":"2012-05-29","s":"no","p":1,"r":516},{"d":"2012-06-05","s":"no","p":1,"r":537},{"d":"2012-06-10","s":"no","p":1,"r":525},{"d":"2012-06-17","s":"no","p":1,"r":481},{"d":"2012-06-25","s":"no","p":1,"r":470},{"d":"2012-06-29","s":"no","p":1,"r":532},{"d":"2012-07-13","s":"no","p":1,"r":532},{"d":"2012-07-19","s":"no","p":1,"r":658},{"d":"2012-07-24","s":"no","p":1,"r":617},{"d":"2012-07-27","s":"no","p":1,"r":630},
{"d":"2012-10-19","s":"no","p":2,"r":691},{"d":"2012-10-29","s":"no","p":2,"r":689},{"d":"2012-11-07","s":"no","p":2,"r":615},{"d":"2012-11-13","s":"no","p":2,"r":610},{"d":"2012-11-17","s":"no","p":2,"r":683},{"d":"2012-12-05","s":"no","p":2,"r":679},{"d":"2012-12-09","s":"no","p":2,"r":628},{"d":"2012-12-14","s":"no","p":2,"r":516},{"d":"2012-12-19","s":"no","p":2,"r":491},{"d":"2012-12-25","s":"no","p":2,"r":523},{"d":"2012-12-30","s":"no","p":2,"r":564},{"d":"2013-01-06","s":"no","p":2,"r":689},{"d":"2013-01-17","s":"no","p":2,"r":689},{"d":"2013-01-21","s":"no","p":2,"r":505},{"d":"2013-02-01","s":"no","p":2,"r":502},{"d":"2013-02-10","s":"no","p":2,"r":445},{"d":"2013-02-17","s":"no","p":2,"r":505},{"d":"2013-03-03","s":"no","p":2,"r":502},{"d":"2013-03-07","s":"no","p":2,"r":346},{"d":"2013-03-15","s":"no","p":2,"r":344},{"d":"2013-03-22","s":"no","p":2,"r":491},{"d":"2013-03-29","s":"no","p":2,"r":539},{"d":"2013-04-03","s":"no","p":2,"r":514},{"d":"2013-04-09","s":"no","p":2,"r":542},{"d":"2013-04-13","s":"no","p":2,"r":592},{"d":"2013-04-17","s":"no","p":2,"r":683},{"d":"2013-04-26","s":"no","p":2,"r":683},{"d":"2013-05-01","s":"no","p":2,"r":491},{"d":"2013-05-04","s":"no","p":2,"r":555},{"d":"2013-05-26","s":"no","p":2,"r":553},{"d":"2013-06-01","s":"no","p":2,"r":679},{"d":"2013-06-06","s":"no","p":2,"r":714},{"d":"2013-06-12","s":"no","p":2,"r":665},{"d":"2013-06-15","s":"no","p":2,"r":707},{"d":"2013-08-09","s":"no","p":2,"r":700},{"d":"2013-08-14","s":"no","p":2,"r":630},{"d":"2013-08-18","s":"no","p":2,"r":698},{"d":"2013-09-14","s":"no","p":2,"r":696},{"d":"2013-09-20","s":"no","p":2,"r":573},{"d":"2013-09-27","s":"no","p":2,"r":689},{"d":"2013-10-01","s":"no","p":2,"r":601},{"d":"2013-10-05","s":"no","p":2,"r":689},{"d":"2013-10-13","s":"no","p":2,"r":689},{"d":"2013-10-17","s":"no","p":2,"r":665},{"d":"2013-11-18","s":"no","p":2,"r":661},{"d":"2013-11-22","s":"no","p":2,"r":493},{"d":"2013-11-25","s":"no","p":2,"r":498}
],
"l3": [
{"d":"2011-12-24","s":"fit","p":1,"r":69.1},{"d":"2012-01-07","s":"fit","p":1,"r":69.1},{"d":"2012-01-15","s":"fit","p":1,"r":84.9},{"d":"2012-01-18","s":"fit","p":1,"r":80.4},{"d":"2012-01-22","s":"fit","p":1,"r":60.3},{"d":"2012-01-25","s":"fit","p":1,"r":60.3},{"d":"2012-01-29","s":"fit","p":1,"r":69.7},{"d":"2012-02-08","s":"fit","p":1,"r":69.7},{"d":"2012-02-15","s":"fit","p":1,"r":86.1},{"d":"2012-02-22","s":"fit","p":1,"r":85.8},{"d":"2012-03-31","s":"fit","p":1,"r":85.2},{"d":"2012-04-04","s":"fit","p":1,"r":85.2},{"d":"2012-04-09","s":"fit","p":1,"r":74},{"d":"2012-04-12","s":"fit","p":1,"r":75.2},{"d":"2012-04-27","s":"fit","p":1,"r":75.2},{"d":"2012-05-01","s":"fit","p":1,"r":67},{"d":"2012-05-04","s":"fit","p":1,"r":75.2},{"d":"2012-05-11","s":"fit","p":1,"r":58.8},{"d":"2012-05-30","s":"fit","p":1,"r":58.8},{"d":"2012-06-05","s":"fit","p":1,"r":68.8},{"d":"2012-06-10","s":"fit","p":1,"r":67.9},{"d":"2012-06-17","s":"fit","p":1,"r":64},{"d":"2012-06-24","s":"fit","p":1,"r":63.4},{"d":"2012-06-28","s":"fit","p":1,"r":68.8},{"d":"2012-07-12","s":"fit","p":1,"r":68.2},{"d":"2012-07-17","s":"fit","p":1,"r":71.6},{"d":"2012-07-20","s":"fit","p":1,"r":82.2},{"d":"2012-07-24","s":"fit","p":1,"r":77.9},{"d":"2012-07-27","s":"fit","p":1,"r":78.9},
{"d":"2012-10-19","s":"fit","p":2,"r":85.2},{"d":"2012-10-29","s":"fit","p":2,"r":84.9},{"d":"2012-11-06","s":"fit","p":2,"r":76.4},{"d":"2012-11-12","s":"fit","p":2,"r":76.4},{"d":"2012-11-17","s":"fit","p":2,"r":84},{"d":"2012-12-09","s":"fit","p":2,"r":84},{"d":"2012-12-12","s":"fit","p":2,"r":68.2},{"d":"2012-12-19","s":"fit","p":2,"r":64.6},{"d":"2012-12-25","s":"fit","p":2,"r":69.4},{"d":"2013-01-08","s":"fit","p":2,"r":84.3},{"d":"2013-01-17","s":"fit","p":2,"r":83.7},{"d":"2013-01-21","s":"fit","p":2,"r":68.2},{"d":"2013-02-01","s":"fit","p":2,"r":68.2},{"d":"2013-02-10","s":"fit","p":2,"r":61.8},{"d":"2013-02-18","s":"fit","p":2,"r":67.9},{"d":"2013-03-03","s":"fit","p":2,"r":67.6},{"d":"2013-03-07","s":"fit","p":2,"r":52.4},{"d":"2013-03-15","s":"fit","p":2,"r":52.1},{"d":"2013-03-28","s":"fit","p":2,"r":69.4},{"d":"2013-04-03","s":"fit","p":2,"r":68.8},{"d":"2013-04-12","s":"fit","p":2,"r":64.6},{"d":"2013-04-18","s":"fit","p":2,"r":75.2},{"d":"2013-04-26","s":"fit","p":2,"r":75.2},{"d":"2013-05-01","s":"fit","p":2,"r":56.1},{"d":"2013-05-05","s":"fit","p":2,"r":59.7},{"d":"2013-05-26","s":"fit","p":2,"r":59.7},{"d":"2013-06-01","s":"fit","p":2,"r":75.5},{"d":"2013-06-05","s":"fit","p":2,"r":87},{"d":"2013-06-10","s":"fit","p":2,"r":84},{"d":"2013-06-15","s":"fit","p":2,"r":86.7},{"d":"2013-08-12","s":"fit","p":2,"r":85.5},{"d":"2013-08-15","s":"fit","p":2,"r":77.9},{"d":"2013-08-19","s":"fit","p":2,"r":85.5},{"d":"2013-09-14","s":"fit","p":2,"r":84.9},{"d":"2013-09-20","s":"fit","p":2,"r":73.1},{"d":"2013-09-25","s":"fit","p":2,"r":84.6},{"d":"2013-10-01","s":"fit","p":2,"r":74.9},{"d":"2013-10-06","s":"fit","p":2,"r":84.6},{"d":"2013-10-13","s":"fit","p":2,"r":84},{"d":"2013-10-18","s":"fit","p":2,"r":74.3},{"d":"2013-11-20","s":"fit","p":2,"r":73.7},{"d":"2013-11-24","s":"fit","p":2,"r":57.9},
{"d":"2011-12-24","s":"no","p":1,"r":73.9},{"d":"2012-01-07","s":"no","p":1,"r":73.9},{"d":"2012-01-15","s":"no","p":1,"r":90.8},{"d":"2012-01-18","s":"no","p":1,"r":86},{"d":"2012-01-22","s":"no","p":1,"r":64.5},{"d":"2012-01-25","s":"no","p":1,"r":64.5},{"d":"2012-01-29","s":"no","p":1,"r":74.6},{"d":"2012-02-08","s":"no","p":1,"r":74.6},{"d":"2012-02-15","s":"no","p":1,"r":92.1},{"d":"2012-02-22","s":"no","p":1,"r":91.8},{"d":"2012-03-31","s":"no","p":1,"r":91.2},{"d":"2012-04-04","s":"no","p":1,"r":91.2},{"d":"2012-04-09","s":"no","p":1,"r":79.2},{"d":"2012-04-12","s":"no","p":1,"r":80.5},{"d":"2012-04-27","s":"no","p":1,"r":80.5},{"d":"2012-05-01","s":"no","p":1,"r":71.7},{"d":"2012-05-04","s":"no","p":1,"r":80.5},{"d":"2012-05-11","s":"no","p":1,"r":62.9},{"d":"2012-05-30","s":"no","p":1,"r":62.9},{"d":"2012-06-05","s":"no","p":1,"r":73.6},{"d":"2012-06-10","s":"no","p":1,"r":72.7},{"d":"2012-06-17","s":"no","p":1,"r":68.5},{"d":"2012-06-24","s":"no","p":1,"r":67.8},{"d":"2012-06-28","s":"no","p":1,"r":73.6},{"d":"2012-07-12","s":"no","p":1,"r":73},{"d":"2012-07-17","s":"no","p":1,"r":76.6},{"d":"2012-07-20","s":"no","p":1,"r":88},{"d":"2012-07-24","s":"no","p":1,"r":83.3},{"d":"2012-07-27","s":"no","p":1,"r":84.4},
{"d":"2012-10-19","s":"no","p":2,"r":91.2},{"d":"2012-10-29","s":"no","p":2,"r":90.8},{"d":"2012-11-06","s":"no","p":2,"r":81.7},{"d":"2012-11-12","s":"no","p":2,"r":81.7},{"d":"2012-11-17","s":"no","p":2,"r":89.9},{"d":"2012-12-09","s":"no","p":2,"r":89.9},{"d":"2012-12-12","s":"no","p":2,"r":73},{"d":"2012-12-19","s":"no","p":2,"r":69.1},{"d":"2012-12-25","s":"no","p":2,"r":74.3},{"d":"2013-01-08","s":"no","p":2,"r":90.2},{"d":"2013-01-17","s":"no","p":2,"r":89.6},{"d":"2013-01-21","s":"no","p":2,"r":73},{"d":"2013-02-01","s":"no","p":2,"r":73},{"d":"2013-02-10","s":"no","p":2,"r":66.1},{"d":"2013-02-18","s":"no","p":2,"r":72.7},{"d":"2013-03-03","s":"no","p":2,"r":72.3},{"d":"2013-03-07","s":"no","p":2,"r":56.1},{"d":"2013-03-15","s":"no","p":2,"r":55.7},{"d":"2013-03-28","s":"no","p":2,"r":74.3},{"d":"2013-04-03","s":"no","p":2,"r":73.6},{"d":"2013-04-12","s":"no","p":2,"r":69.1},{"d":"2013-04-18","s":"no","p":2,"r":80.5},{"d":"2013-04-26","s":"no","p":2,"r":80.5},{"d":"2013-05-01","s":"no","p":2,"r":60},{"d":"2013-05-05","s":"no","p":2,"r":63.9},{"d":"2013-05-26","s":"no","p":2,"r":63.9},{"d":"2013-06-01","s":"no","p":2,"r":80.8},{"d":"2013-06-05","s":"no","p":2,"r":93.1},{"d":"2013-06-10","s":"no","p":2,"r":89.9},{"d":"2013-06-15","s":"no","p":2,"r":92.8},{"d":"2013-08-12","s":"no","p":2,"r":91.5},{"d":"2013-08-15","s":"no","p":2,"r":83.3},{"d":"2013-08-19","s":"no","p":2,"r":91.5},{"d":"2013-09-14","s":"no","p":2,"r":90.8},{"d":"2013-09-20","s":"no","p":2,"r":78.2},{"d":"2013-09-25","s":"no","p":2,"r":90.5},{"d":"2013-10-01","s":"no","p":2,"r":80.1},{"d":"2013-10-06","s":"no","p":2,"r":90.5},{"d":"2013-10-13","s":"no","p":2,"r":89.9},{"d":"2013-10-18","s":"no","p":2,"r":79.5},{"d":"2013-11-20","s":"no","p":2,"r":78.9},{"d":"2013-11-24","s":"no","p":2,"r":62}
]
},
"bounds": "flush",
"spacing": 0,
"resolve": {"scale": {"x": "independent", "y": "independent", "color": "shared"}},
"vconcat": [
{
 "width": 2107, "height": 460,
 "resolve": {"axis": {"x": "independent", "y": "independent"}},
 "layer": [
  {"data": {"name": "eh1"}, "mark": {"type": "errorbar", "thickness": 6},
   "encoding": {
    "x": {"field": "d", "type": "temporal", "scale": {"domain": [{"year": 2011, "month": 12, "date": 18, "hours": 15}, {"year": 2013, "month": 12, "date": 9, "hours": 12}], "nice": false}, "axis": null},
    "y": {"field": "r", "type": "quantitative", "scale": {"domain": [351.5, 900], "nice": false, "zero": false}, "axis": {"orient": "left", "ticks": false, "values": [400, 500, 600, 700, 800, 900], "labelFontSize": 35, "labelPadding": 17, "title": "IBD Rate (/day/AD)", "titleFontSize": 41, "titleX": -143, "titleY": 230, "titleAngle": 270, "titleAlign": "center", "titleBaseline": "alphabetic"}},
    "yError": {"field": "e"},
    "color": {"datum": "Data", "type": "nominal", "scale": {"domain": ["Data", "No Oscillation", "Best Fit"], "range": ["#0000ff", "#000000", "#ff0000"]},
      "legend": {"orient": "none", "legendX": 947, "legendY": 283, "title": null, "symbolType": "M-1.75,0H1.75", "symbolSize": 1600, "symbolStrokeWidth": 5, "labelFontSize": 42, "labelFont": "Liberation Sans", "labelColor": "#000000", "labelOffset": 26, "rowPadding": 9, "padding": 0, "labelLimit": 600,
        "encode": {"symbols": {"update": {"strokeDash": {"signal": "datum.value === 'No Oscillation' ? [9, 8] : [1, 0]"}, "fill": {"value": "transparent"}}}}}}
   }},
  {"data": {"name": "eh1"}, "mark": {"type": "point", "shape": "square", "filled": true, "size": 20, "color": "#0000ff", "opacity": 1},
   "encoding": {"x": {"field": "d", "type": "temporal", "axis": null}, "y": {"field": "r", "type": "quantitative", "axis": null}}},
  {"data": {"name": "l1"}, "transform": [{"filter": "datum.s === 'no'"}], "mark": {"type": "line", "strokeWidth": 5, "strokeDash": [9, 8]},
   "encoding": {
    "x": {"field": "d", "type": "temporal", "axis": {"orient": "bottom", "labels": false, "title": null, "tickSize": -11, "values": [{"year": 2012, "month": 1, "date": 1}, {"year": 2012, "month": 4, "date": 1}, {"year": 2012, "month": 7, "date": 1}, {"year": 2012, "month": 10, "date": 1}, {"year": 2012, "month": 12, "date": 31}, {"year": 2013, "month": 4, "date": 1}, {"year": 2013, "month": 7, "date": 1}, {"year": 2013, "month": 10, "date": 1}]}},
    "y": {"field": "r", "type": "quantitative", "axis": {"orient": "left", "labels": false, "title": null, "tickSize": -72, "values": [400, 500, 600, 700, 800, 900]}},
    "detail": {"field": "p"},
    "color": {"datum": "No Oscillation", "type": "nominal"}
   }},
  {"data": {"name": "l1"}, "transform": [{"filter": "datum.s === 'fit'"}], "mark": {"type": "line", "strokeWidth": 5},
   "encoding": {
    "x": {"field": "d", "type": "temporal", "axis": {"orient": "bottom", "labels": false, "title": null, "tickSize": -4, "values": [{"year": 2012, "month": 2, "date": 15}, {"year": 2012, "month": 5, "date": 17}, {"year": 2012, "month": 8, "date": 16}, {"year": 2012, "month": 11, "date": 15}, {"year": 2013, "month": 2, "date": 14}, {"year": 2013, "month": 5, "date": 17}, {"year": 2013, "month": 8, "date": 16}, {"year": 2013, "month": 11, "date": 16}]}},
    "y": {"field": "r", "type": "quantitative", "axis": {"orient": "left", "labels": false, "title": null, "tickSize": -33, "tickCount": 55}},
    "detail": {"field": "p"},
    "color": {"datum": "Best Fit", "type": "nominal"}
   }},
  {"data": {"values": [{"t": "EH1"}]}, "mark": {"type": "text", "align": "left", "baseline": "middle", "fontSize": 40, "font": "Liberation Sans", "color": "#000000"},
   "encoding": {"x": {"datum": {"year": 2012, "month": 1, "date": 18}, "type": "temporal", "axis": null}, "y": {"datum": 834, "type": "quantitative", "axis": null}, "text": {"field": "t"}}}
 ]
},
{
 "width": 2107, "height": 450,
 "resolve": {"axis": {"x": "independent", "y": "independent"}},
 "layer": [
  {"data": {"name": "eh2"}, "mark": {"type": "errorbar", "thickness": 6},
   "encoding": {
    "x": {"field": "d", "type": "temporal", "scale": {"domain": [{"year": 2011, "month": 12, "date": 18, "hours": 15}, {"year": 2013, "month": 12, "date": 9, "hours": 12}], "nice": false}, "axis": null},
    "y": {"field": "r", "type": "quantitative", "scale": {"domain": [253, 861], "nice": false, "zero": false}, "axis": {"orient": "left", "ticks": false, "values": [300, 400, 500, 600, 700, 800], "labelFontSize": 35, "labelPadding": 17, "title": "IBD Rate (/day/AD)", "titleFontSize": 41, "titleX": -143, "titleY": 225, "titleAngle": 270, "titleAlign": "center", "titleBaseline": "alphabetic"}},
    "yError": {"field": "e"},
    "color": {"datum": "Data", "type": "nominal"}
   }},
  {"data": {"name": "eh2"}, "mark": {"type": "point", "shape": "square", "filled": true, "size": 20, "color": "#0000ff", "opacity": 1},
   "encoding": {"x": {"field": "d", "type": "temporal", "axis": null}, "y": {"field": "r", "type": "quantitative", "axis": null}}},
  {"data": {"name": "l2"}, "transform": [{"filter": "datum.s === 'no'"}], "mark": {"type": "line", "strokeWidth": 5, "strokeDash": [9, 8]},
   "encoding": {
    "x": {"field": "d", "type": "temporal", "axis": {"orient": "bottom", "labels": false, "title": null, "tickSize": -11, "values": [{"year": 2012, "month": 1, "date": 1}, {"year": 2012, "month": 4, "date": 1}, {"year": 2012, "month": 7, "date": 1}, {"year": 2012, "month": 10, "date": 1}, {"year": 2012, "month": 12, "date": 31}, {"year": 2013, "month": 4, "date": 1}, {"year": 2013, "month": 7, "date": 1}, {"year": 2013, "month": 10, "date": 1}]}},
    "y": {"field": "r", "type": "quantitative", "axis": {"orient": "left", "labels": false, "title": null, "tickSize": -78, "values": [300, 400, 500, 600, 700, 800]}},
    "detail": {"field": "p"},
    "color": {"datum": "No Oscillation", "type": "nominal"}
   }},
  {"data": {"name": "l2"}, "transform": [{"filter": "datum.s === 'fit'"}], "mark": {"type": "line", "strokeWidth": 5},
   "encoding": {
    "x": {"field": "d", "type": "temporal", "axis": {"orient": "bottom", "labels": false, "title": null, "tickSize": -4, "values": [{"year": 2012, "month": 2, "date": 15}, {"year": 2012, "month": 5, "date": 17}, {"year": 2012, "month": 8, "date": 16}, {"year": 2012, "month": 11, "date": 15}, {"year": 2013, "month": 2, "date": 14}, {"year": 2013, "month": 5, "date": 17}, {"year": 2013, "month": 8, "date": 16}, {"year": 2013, "month": 11, "date": 16}]}},
    "y": {"field": "r", "type": "quantitative", "axis": {"orient": "left", "labels": false, "title": null, "tickSize": -39, "tickCount": 61}},
    "detail": {"field": "p"},
    "color": {"datum": "Best Fit", "type": "nominal"}
   }},
  {"data": {"values": [{"t": "EH2"}]}, "mark": {"type": "text", "align": "left", "baseline": "middle", "fontSize": 40, "font": "Liberation Sans", "color": "#000000"},
   "encoding": {"x": {"datum": {"year": 2012, "month": 1, "date": 18}, "type": "temporal", "axis": null}, "y": {"datum": 769, "type": "quantitative", "axis": null}, "text": {"field": "t"}}}
 ]
},
{
 "width": 2107, "height": 451,
 "resolve": {"axis": {"x": "independent", "y": "independent"}},
 "layer": [
  {"data": {"name": "eh3"}, "mark": {"type": "errorbar", "thickness": 6},
   "encoding": {
    "x": {"field": "d", "type": "temporal", "scale": {"domain": [{"year": 2011, "month": 12, "date": 18, "hours": 15}, {"year": 2013, "month": 12, "date": 9, "hours": 12}], "nice": false}, "axis": {"orient": "bottom", "ticks": false, "title": null, "format": "%m/%Y", "labelFontSize": 45, "labelPadding": 8, "labelOffset": -7, "values": [{"year": 2012, "month": 1, "date": 1}, {"year": 2012, "month": 4, "date": 1}, {"year": 2012, "month": 7, "date": 1}, {"year": 2012, "month": 10, "date": 1}, {"year": 2012, "month": 12, "date": 31}, {"year": 2013, "month": 4, "date": 1}, {"year": 2013, "month": 7, "date": 1}, {"year": 2013, "month": 10, "date": 1}]}},
    "y": {"field": "r", "type": "quantitative", "scale": {"domain": [33.6, 115.6], "nice": false, "zero": false}, "axis": {"orient": "left", "ticks": false, "values": [40, 50, 60, 70, 80, 90, 100, 110], "labelFontSize": 35, "labelPadding": 17, "title": "IBD Rate (/day/AD)", "titleFontSize": 41, "titleX": -143, "titleY": 225, "titleAngle": 270, "titleAlign": "center", "titleBaseline": "alphabetic"}},
    "yError": {"field": "e"},
    "color": {"datum": "Data", "type": "nominal"}
   }},
  {"data": {"name": "eh3"}, "mark": {"type": "point", "shape": "square", "filled": true, "size": 20, "color": "#0000ff", "opacity": 1},
   "encoding": {"x": {"field": "d", "type": "temporal", "axis": null}, "y": {"field": "r", "type": "quantitative", "axis": null}}},
  {"data": {"name": "l3"}, "transform": [{"filter": "datum.s === 'no'"}], "mark": {"type": "line", "strokeWidth": 5, "strokeDash": [9, 8]},
   "encoding": {
    "x": {"field": "d", "type": "temporal", "axis": {"orient": "bottom", "labels": false, "title": null, "tickSize": -11, "values": [{"year": 2012, "month": 1, "date": 1}, {"year": 2012, "month": 4, "date": 1}, {"year": 2012, "month": 7, "date": 1}, {"year": 2012, "month": 10, "date": 1}, {"year": 2012, "month": 12, "date": 31}, {"year": 2013, "month": 4, "date": 1}, {"year": 2013, "month": 7, "date": 1}, {"year": 2013, "month": 10, "date": 1}]}},
    "y": {"field": "r", "type": "quantitative", "axis": {"orient": "left", "labels": false, "title": null, "tickSize": -55, "values": [40, 50, 60, 70, 80, 90, 100, 110]}},
    "detail": {"field": "p"},
    "color": {"datum": "No Oscillation", "type": "nominal"}
   }},
  {"data": {"name": "l3"}, "transform": [{"filter": "datum.s === 'fit'"}], "mark": {"type": "line", "strokeWidth": 5},
   "encoding": {
    "x": {"field": "d", "type": "temporal", "axis": {"orient": "bottom", "labels": false, "title": null, "tickSize": -4, "values": [{"year": 2012, "month": 2, "date": 15}, {"year": 2012, "month": 5, "date": 17}, {"year": 2012, "month": 8, "date": 16}, {"year": 2012, "month": 11, "date": 15}, {"year": 2013, "month": 2, "date": 14}, {"year": 2013, "month": 5, "date": 17}, {"year": 2013, "month": 8, "date": 16}, {"year": 2013, "month": 11, "date": 16}]}},
    "y": {"field": "r", "type": "quantitative", "axis": {"orient": "left", "labels": false, "title": null, "tickSize": -30, "tickCount": 82}},
    "detail": {"field": "p"},
    "color": {"datum": "Best Fit", "type": "nominal"}
   }},
  {"data": {"values": [{"t": "EH3"}]}, "mark": {"type": "text", "align": "left", "baseline": "middle", "fontSize": 40, "font": "Liberation Sans", "color": "#000000"},
   "encoding": {"x": {"datum": {"year": 2012, "month": 1, "date": 18}, "type": "temporal", "axis": null}, "y": {"datum": 102.4, "type": "quantitative", "axis": null}, "text": {"field": "t"}}}
 ]
}
]
}
